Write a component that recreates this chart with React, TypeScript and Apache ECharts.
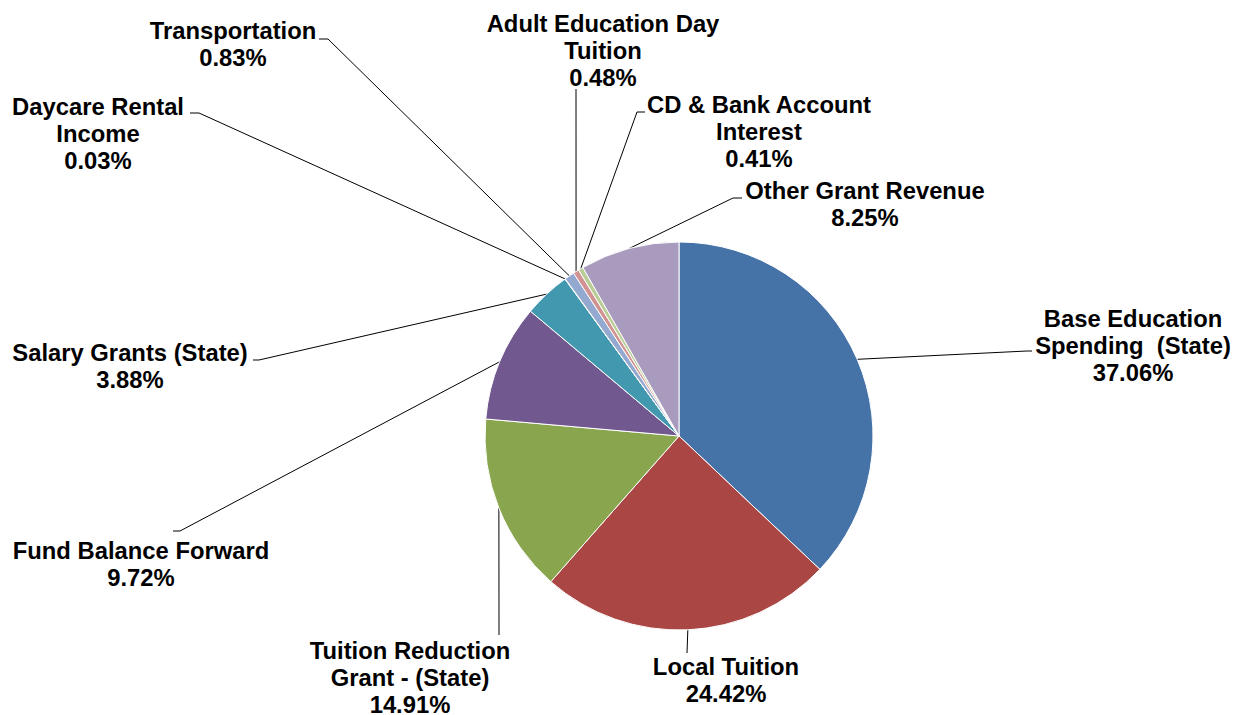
import React, { useEffect, useRef } from 'react';
import * as echarts from 'echarts';

// ---- data ----
const categories = [
  'Base Education\nSpending  (State)',
  'Local Tuition',
  'Tuition Reduction\nGrant - (State)',
  'Fund Balance Forward',
  'Salary Grants (State)',
  'Daycare Rental\nIncome',
  'Transportation',
  'Adult Education Day\nTuition',
  'CD & Bank Account\nInterest',
  'Other Grant Revenue',
];
const shares = [37.06, 24.42, 14.91, 9.72, 3.88, 0.03, 0.83, 0.48, 0.41, 8.25];
const colors = [
  '#4572A7', '#AA4643', '#89A54E', '#71588F', '#4198AF',
  '#DB843D', '#93A9CF', '#D19392', '#B9CD96', '#A99BBD',
];

// ---- label layout (positions only) ----
const labelCenters: number[][] = [
  [1133, 345], [726, 680], [410, 677], [141, 564], [130, 366],
  [98, 133], [233, 44], [603, 50], [759, 131], [865, 204],
];
// leader line points that follow the slice-edge point computed by the library
const leaderPaths: number[][][] = [
  [[1027, 351], [1032, 351]],
  [[687, 653]],
  [[499, 635]],
  [[180, 531], [173, 531]],
  [[259, 360], [253, 360]],
  [[199, 113], [190, 113]],
  [[328, 39], [319, 39]],
  [[576, 89]],
  [[637, 112], [645, 112]],
  [[733, 198], [742, 198]],
];

export default function App() {
  const ref = useRef<HTMLDivElement>(null);
  useEffect(() => {
    if (!ref.current) return;
    const chart = echarts.init(ref.current, null, { renderer: 'svg' });
    chart.setOption({
      animation: false,
      backgroundColor: '#ffffff',
      color: colors,
      series: [
        {
          type: 'pie',
          center: [679, 436],
          radius: 194,
          startAngle: 90,
          clockwise: true,
          avoidLabelOverlap: false,
          data: categories.map((name, i) => ({ name, value: shares[i] })),
          itemStyle: { borderColor: '#ffffff', borderWidth: 1 },
          label: {
            show: true,
            position: 'outside',
            formatter: (p: any) => `${p.name}\n${Number(p.value).toFixed(2)}%`,
            color: '#000000',
            fontFamily: '"Liberation Sans", Arial, sans-serif',
            fontWeight: 'bold',
            fontSize: 23.8,
            lineHeight: 27,
            align: 'center',
          },
          labelLine: {
            show: true,
            length: 10,
            length2: 10,
            lineStyle: { color: '#000000', width: 1 },
          },
          labelLayout: (params: any) => {
            const i = params.dataIndex;
            const c = labelCenters[i];
            const pts = params.labelLinePoints;
            const start = pts && pts[0] ? pts[0] : leaderPaths[i][0];
            return {
              x: c[0],
              y: c[1],
              align: 'center',
              verticalAlign: 'middle',
              labelLinePoints: [start, ...leaderPaths[i]],
            };
          },
          emphasis: { disabled: true },
        },
      ],
    });
    return () => chart.dispose();
  }, []);
  return (
    <div
      ref={ref}
      style={{ position: 'absolute', left: 0, top: 0, width: 1235, height: 715 }}
    />
  );
}
